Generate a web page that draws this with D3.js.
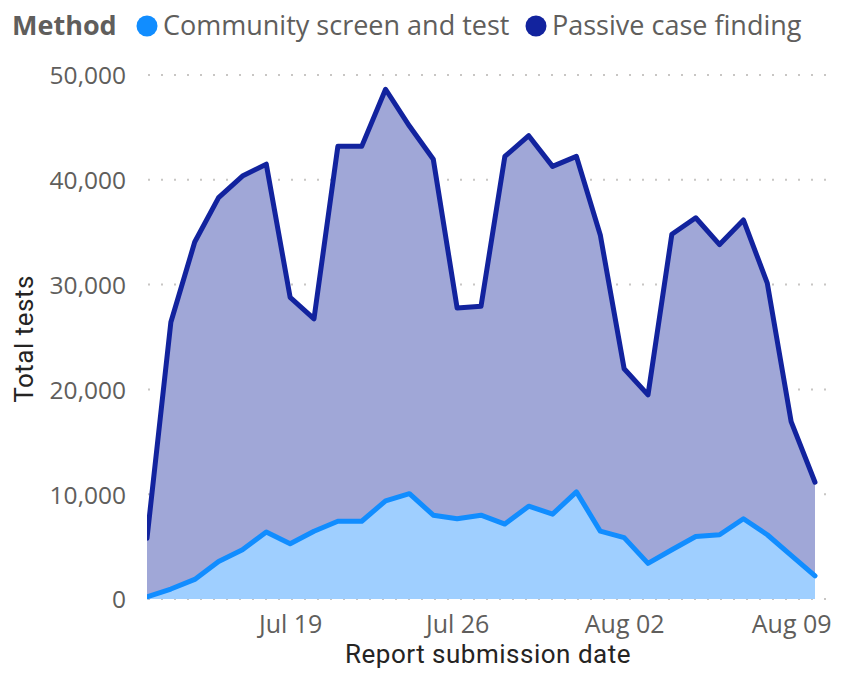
<!DOCTYPE html>
<html>
<head>
<meta charset="utf-8">
<script src="https://cdn.jsdelivr.net/npm/d3@7"></script>
<style>
  html, body { margin: 0; padding: 0; background: #fff; }
  svg { display: block; }
  text { font-family: "Open Sans", "Noto Sans", sans-serif; }
</style>
</head>
<body>
<svg id="chart" width="850" height="677"></svg>
<script>
// ---- data ----
const dates = [
  "2021-07-13","2021-07-14","2021-07-15","2021-07-16","2021-07-17","2021-07-18","2021-07-19",
  "2021-07-20","2021-07-21","2021-07-22","2021-07-23","2021-07-24","2021-07-25","2021-07-26",
  "2021-07-27","2021-07-28","2021-07-29","2021-07-30","2021-07-31","2021-08-01","2021-08-02",
  "2021-08-03","2021-08-04","2021-08-05","2021-08-06","2021-08-07","2021-08-08","2021-08-09",
  "2021-08-10"
];
const communityScreen = [
  200, 950, 1870, 3580, 4700, 6400, 5280,
  6470, 7420, 7420, 9370, 10050, 8000, 7660,
  8000, 7150, 8860, 8100, 10220, 6470, 5860,
  3400, 4700, 5960, 6130, 7660, 6130, 4160,
  2210
];
const passiveCase = [
  5600, 25450, 32190, 34720, 35660, 35090, 23500,
  20270, 35770, 35770, 39270, 35080, 33960, 20100,
  19930, 35080, 35350, 33180, 32010, 28270, 16110,
  16080, 30110, 30420, 27690, 28510, 24010, 12770,
  8930
];
const seriesNames = ["Community screen and test", "Passive case finding"];
const seriesColors = ["#118DFF", "#12239E"];
const areaColors = ["#9fcfff", "#a0a7d7"];
const xTickDates = ["2021-07-19", "2021-07-26", "2021-08-02", "2021-08-09"];
const yTicks = [0, 10000, 20000, 30000, 40000, 50000];
const legendTitle = "Method";
const xTitle = "Report submission date";
const yTitle = "Total tests";

(function () {
// ---- build ----
const parse = d3.utcParse("%Y-%m-%d");
const rows = dates.map((d, i) => ({
  date: parse(d),
  community: communityScreen[i],
  passive: passiveCase[i]
}));
const stack = d3.stack().keys(["community", "passive"]);
const layers = stack(rows);

const svg = d3.select("#chart");
const pLeft = 147, pRight = 815, pTop = 75, pBottom = 599, gridRight = 826;

const x = d3.scaleUtc()
  .domain(d3.extent(rows, d => d.date))
  .range([pLeft, pRight]);
const y = d3.scaleLinear().domain([0, 50000]).range([pBottom, pTop]);

// gridlines
svg.append("g").selectAll("line").data(yTicks).join("line")
  .attr("x1", pLeft + 1).attr("x2", gridRight)
  .attr("y1", d => y(d)).attr("y2", d => y(d))
  .attr("stroke", "#c8c6c4").attr("stroke-width", 2)
  .attr("stroke-dasharray", "2,11");

// y axis labels
const yAxis = d3.axisLeft(y).tickValues(yTicks).tickFormat(d3.format(",")).tickSize(0).tickPadding(0);
const yg = svg.append("g").attr("transform", `translate(126,0)`).call(yAxis);
yg.select(".domain").remove();
yg.selectAll("text")
  .attr("fill", "#605E5C")
  .style("font-size", "24.5px")
  .attr("dy", "0.36em");

// x axis labels
const xAxis = d3.axisBottom(x).tickValues(xTickDates.map(parse))
  .tickFormat(d3.utcFormat("%b %d")).tickSize(0).tickPadding(0);
const xg = svg.append("g").attr("transform", `translate(0,${pBottom})`).call(xAxis);
xg.select(".domain").remove();
xg.selectAll("text")
  .attr("fill", "#605E5C")
  .style("font-size", "25px")
  .attr("y", 34).attr("dy", 0);

// clip
svg.append("clipPath").attr("id", "plotclip")
  .append("rect").attr("x", pLeft).attr("y", 0).attr("width", 700).attr("height", pBottom + 1);

const plot = svg.append("g").attr("clip-path", "url(#plotclip)");

const area = d3.area()
  .x(d => x(d.data.date))
  .y0(d => y(d[0]))
  .y1(d => y(d[1]));
const line = d3.line()
  .x(d => x(d.data.date))
  .y(d => y(d[1]));

plot.selectAll("path.area").data(layers).join("path")
  .attr("class", "area")
  .attr("d", area)
  .attr("fill", (d, i) => areaColors[i]);

plot.selectAll("path.line").data(layers.slice().reverse()).join("path")
  .attr("class", "line")
  .attr("d", line)
  .attr("fill", "none")
  .attr("stroke", (d) => seriesColors[d.index])
  .attr("stroke-width", 5)
  .attr("stroke-linejoin", "round")
  .attr("stroke-linecap", "round");

// axis titles
svg.append("text")
  .attr("x", 488).attr("y", 663)
  .attr("text-anchor", "middle")
  .attr("fill", "#252423")
  .style("font-family", "Roboto, sans-serif")
  .style("font-size", "26px")
  .style("font-weight", "400")
  .style("letter-spacing", "0.5px")
  .text(xTitle);

svg.append("text")
  .attr("transform", "translate(33,339) rotate(-90)")
  .attr("text-anchor", "middle")
  .attr("fill", "#252423")
  .style("font-family", "Roboto, sans-serif")
  .style("font-size", "26px")
  .style("font-weight", "400")
  .style("letter-spacing", "0.5px")
  .text(yTitle);

// legend
const lg = svg.append("g");
lg.append("text")
  .attr("x", 12).attr("y", 35)
  .attr("fill", "#605E5C")
  .style("font-size", "27px")
  .style("font-weight", "700")
  .text(legendTitle);
const legendX = [147, 536];
seriesNames.forEach((name, i) => {
  lg.append("circle")
    .attr("cx", legendX[i]).attr("cy", 26).attr("r", 10.5)
    .attr("fill", seriesColors[i]);
  lg.append("text")
    .attr("x", legendX[i] + 16).attr("y", 35)
    .attr("fill", "#605E5C")
    .style("font-size", "27px")
    .text(name);
});
})();
</script>
</body>
</html>
